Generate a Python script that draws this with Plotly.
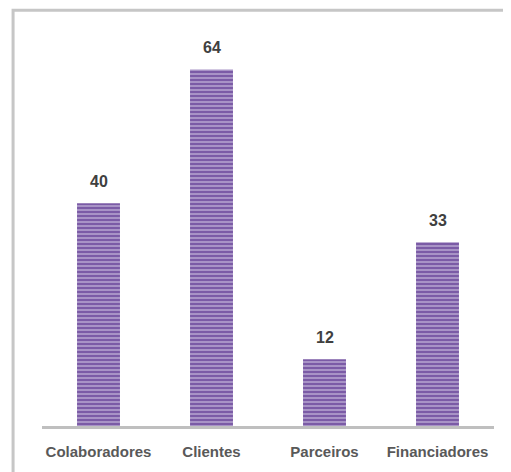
import plotly.graph_objects as go

categorias = ["Colaboradores", "Clientes", "Parceiros", "Financiadores"]
valores = [40, 64, 12, 33]

FONTE = "Liberation Sans, Arial, sans-serif"

fig = go.Figure()

fig.add_trace(go.Bar(
    x=categorias,
    y=valores,
    marker=dict(
        color="#7b5ba6",
        line=dict(width=0),
        pattern=dict(shape="-", fgcolor="#ece6f5", bgcolor="#7b5ba6", size=4, solidity=0.4),
    ),
))

# rótulos de valor um pouco acima das barras
for cat, val in zip(categorias, valores):
    fig.add_annotation(
        x=cat, y=val, text=f"<b>{val}</b>",
        showarrow=False, yanchor="bottom", yshift=11,
        font=dict(family=FONTE, size=16, color="#404040"),
    )

# moldura cinza: retângulo que sai pela direita e por baixo
fig.add_shape(type="rect", xref="paper", yref="paper",
              x0=-0.064, x1=1.1, y0=-0.2, y1=1.066,
              line=dict(color="#c6c6c6", width=3), fillcolor="rgba(0,0,0,0)")

# a página tem margem de 8px no body
fig.update_layout(
    width=503,
    height=464,
    margin=dict(l=34, r=17, t=28, b=43),
    plot_bgcolor="white",
    paper_bgcolor="white",
    showlegend=False,
    bargap=0.62,
    font=dict(family=FONTE),
)
fig.update_xaxes(
    showline=True, linecolor="#bfbfbf", linewidth=3,
    tickfont=dict(size=15, color="#595959"),
    ticklabelstandoff=10,
    tickprefix="<b>", ticksuffix="</b>",
)
fig.update_yaxes(range=[0, 70], visible=False, showgrid=False)

fig.write_html(
    "out.html",
    config={"displayModeBar": False},
    post_script="document.documentElement.style.overflow='hidden';document.body.style.overflow='hidden';",
)
